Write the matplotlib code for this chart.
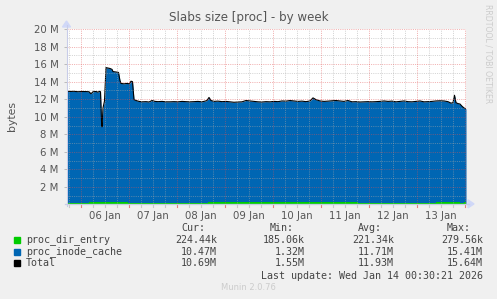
import numpy as np
import matplotlib
matplotlib.use("Agg")
import matplotlib.pyplot as plt

# ---------------- data ----------------
# hours relative to 06 Jan 00:00
total_hours = [-7, -5.5, -3.5, -1.5, 0.5, 2.5, 4, 5, 6, 7.5, 8.5, 9.25, 9.75, 10.25, 10.5, 11, 11.75,
               12.5, 13.5, 14.5, 15.5, 16, 17.5, 18.75, 19.5, 20, 21.5, 23, 24.25, 25, 25.75, 26.5,
               27.5, 29, 30.5, 32.5, 34, 35.5, 37, 38.5, 40.5, 42.5, 44.5, 46.5, 48.5, 50.5, 52.5,
               54.5, 56.5, 58.5, 60.5, 62, 63, 64, 65, 66.5, 68.5, 70.5, 72.5, 74.5, 76.5, 78.5,
               80.5, 82.5, 84.5, 86.5, 88.5, 90.5, 92.5, 94.5, 96.5, 98.5, 100.5, 102.5, 104.5,
               106.5, 108.5, 110.5, 112.5, 114.5, 116, 117.5, 119.5, 121.5, 123.5, 125.5, 127.5,
               129.5, 131.5, 133.5, 135.5, 137.5, 139.5, 141.5, 143.5, 145.5, 147.5, 149.5, 151.5,
               153.5, 155.5, 157.5, 159.5, 161.5, 163.5, 165.5, 167.5, 169.5, 171.5, 173.5, 175.5,
               177.5, 179.5, 181.5, 183.5, 185, 186, 186.75, 187.5, 188.5, 189.5, 190.5, 191.5, 192.5]
# Total (MB)
total_mb = [12.90, 12.88, 12.90, 12.85, 12.88, 12.87, 12.85, 12.62, 12.85, 12.88, 12.80, 12.90, 12.85,
            9.5, 8.85, 11.0, 11.8, 15.6, 15.55, 15.5, 15.4, 15.15, 15.1, 15.05, 14.1, 13.8, 13.75,
            13.8, 13.75, 14.05, 14.0, 11.95, 11.85, 11.75, 11.7, 11.72, 11.68, 11.85, 11.75, 11.72,
            11.75, 11.7, 11.7, 11.72, 11.7, 11.75, 11.72, 11.7, 11.72, 11.75, 11.7, 11.78, 11.85,
            12.2, 11.85, 11.75, 11.78, 11.72, 11.75, 11.7, 11.65, 11.68, 11.7, 11.85, 11.8, 11.75,
            11.7, 11.68, 11.72, 11.7, 11.75, 11.72, 11.8, 11.78, 11.85, 11.8, 11.75, 11.78, 11.72,
            11.8, 12.15, 11.95, 11.8, 11.75, 11.78, 11.82, 11.85, 11.8, 11.75, 11.85, 11.7, 11.72,
            11.68, 11.7, 11.72, 11.7, 11.72, 11.75, 11.8, 11.75, 11.78, 11.7, 11.75, 11.8, 11.72,
            11.7, 11.75, 11.8, 11.7, 11.72, 11.75, 11.8, 11.82, 11.8, 11.72, 11.55, 11.6, 12.45,
            11.6, 11.5, 11.45, 11.2, 11.0, 10.9]

# proc_dir_entry (kB), step segments starting at given hour
dir_hours = [-7, 4, 23.5, 63.5, 138.5, 177.5, 189.5, 191.5, 192.5]
dir_kb = [185, 275, 186, 270, 186, 279, 186, 265, 265]

day_labels = ["06 Jan", "07 Jan", "08 Jan", "09 Jan", "10 Jan", "11 Jan", "12 Jan", "13 Jan"]
ytick_vals = [2, 4, 6, 8, 10, 12, 14, 16, 18, 20]

legend_names = ["proc_dir_entry", "proc_inode_cache", "Total"]
legend_colors = ["#00CC00", "#0066B3", "#000000"]
cur_vals = ["224.44k", "10.47M", "10.69M"]
min_vals = ["185.06k", "1.32M", "1.55M"]
avg_vals = ["221.34k", "11.71M", "11.93M"]
max_vals = ["279.56k", "15.41M", "15.64M"]

# ---------------- figure ----------------
W, H = 497, 299
fig = plt.figure(figsize=(W / 100, H / 100), dpi=100, facecolor="#F0F0F0")

def fx(px):
    return px / W

def fy(py):
    return 1 - py / H

L, R, T, B = 67, 466, 29, 204.5
ax = fig.add_axes([fx(L), fy(B), fx(R - L), fy(T) - fy(B)])
ax.set_facecolor("white")

th = np.array(total_hours)
tv = np.array(total_mb) * 1e6
ax.fill_between(th, 0, tv, color="#0066B3", lw=0, zorder=2)
ax.plot(th, tv, color="black", lw=0.8, zorder=4)
ax.fill_between(dir_hours, 0, np.array(dir_kb) * 1e3, step="post", color="#00CC00", lw=0, zorder=3)

ax.set_xlim(-7, 192.5)
ax.set_ylim(0, 20e6)

# grid
gkw = dict(lw=0.72, ls=(0, (1, 1.2)), zorder=5)
for h in np.arange(-6, 193, 6):
    if h % 24 == 0:
        continue
    ax.axvline(h, color="#A8A8A8", alpha=0.5, **gkw)
for v in np.arange(1, 20, 2):
    ax.axhline(v * 1e6, color="#A8A8A8", alpha=0.5, **gkw)
for h in np.arange(0, 193, 24):
    ax.axvline(h, color="#E05050", alpha=0.45, **gkw)
for v in ytick_vals:
    ax.axhline(v * 1e6, color="#E05050", alpha=0.45, **gkw)

for s in ax.spines.values():
    s.set_visible(False)

ax.set_yticks([v * 1e6 for v in ytick_vals])
ax.set_yticklabels([f"{v} M" for v in ytick_vals])
ax.tick_params(axis="y", length=2, width=0.7, color="#BBBBBB", pad=4, labelsize=7.3, labelcolor="#555555")
ax.set_xticks(np.arange(12, 193, 24)[:len(day_labels)])
ax.set_xticklabels(day_labels)
ax.tick_params(axis="x", length=0, pad=5, labelsize=7.3, labelcolor="#555555")

# axis lines with arrows
axis_col = "#C8CCE8"
AX_Y = 203.9
fig.add_artist(plt.Line2D([fx(L - 2), fx(R + 3)], [fy(AX_Y), fy(AX_Y)], color=axis_col, lw=0.95))
fig.add_artist(plt.Line2D([fx(L - 0.5), fx(L - 0.5)], [fy(AX_Y + 2), fy(T - 4)], color=axis_col, lw=0.8))
fig.patches.append(plt.Polygon([[fx(R + 2), fy(AX_Y - 4)], [fx(R + 2), fy(AX_Y + 4)], [fx(R + 8), fy(AX_Y)]],
                               closed=True, color="#D0D8F8", transform=fig.transFigure))
fig.patches.append(plt.Polygon([[fx(L - 4.5), fy(T - 2)], [fx(L + 3.5), fy(T - 2)], [fx(L - 0.5), fy(T - 8)]],
                               closed=True, color="#D0D8F8", transform=fig.transFigure))
# tick marks below the axis
for h in np.arange(-6, 193, 6):
    col = "#E08080" if h % 24 == 0 else "#C8C8C8"
    ax.plot([h, h], [-0.004, -0.016], transform=ax.get_xaxis_transform(), color=col,
            lw=0.8, clip_on=False, zorder=6)

# texts
fig.text(fx(249), fy(17), "Slabs size [proc] - by week", ha="center", va="center",
         fontsize=8.6, color="#555555")
fig.text(fx(12), fy(116), "bytes", ha="center", va="center", rotation=90, fontsize=7.8, color="#555555")
fig.text(fx(488), fy(54), "RRDTOOL / TOBI OETIKER", ha="center", va="center", rotation=270,
         fontsize=5.6, color="#CCCCCC")

mono = dict(family="DejaVu Sans Mono", fontsize=7.2, color="#444444", va="center")
fig.text(fx(181), fy(228), "Cur:", ha="left", **mono)
fig.text(fx(270), fy(228), "Min:", ha="left", **mono)
fig.text(fx(358), fy(228), "Avg:", ha="left", **mono)
fig.text(fx(447), fy(228), "Max:", ha="left", **mono)
row_y = [240, 252, 263]
for i in range(3):
    y = row_y[i]
    fig.patches.append(plt.Rectangle((fx(14), fy(y + 3)), fx(6), fy(y - 3) - fy(y + 3),
                                     color=legend_colors[i], transform=fig.transFigure))
    fig.text(fx(26), fy(y), legend_names[i], ha="left", **mono)
    fig.text(fx(217), fy(y), cur_vals[i], ha="right", **mono)
    fig.text(fx(305), fy(y), min_vals[i], ha="right", **mono)
    fig.text(fx(394), fy(y), avg_vals[i], ha="right", **mono)
    fig.text(fx(483), fy(y), max_vals[i], ha="right", **mono)
fig.text(fx(483), fy(276), "Last update: Wed Jan 14 00:30:21 2026", ha="right", **mono)
fig.text(fx(248), fy(288), "Munin 2.0.76", ha="center", va="center", fontsize=6, color="#CCCCCC")

fig.savefig("out.png", dpi=100, facecolor=fig.get_facecolor())
